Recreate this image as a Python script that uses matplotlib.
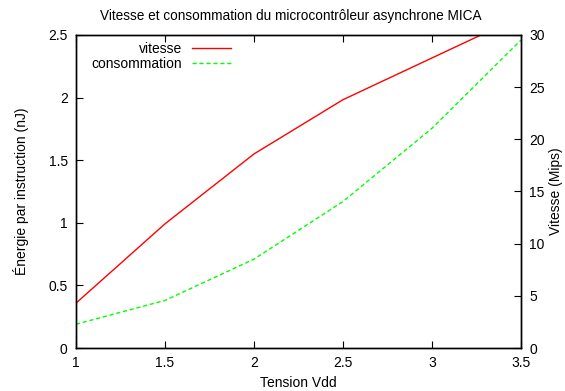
import matplotlib
matplotlib.use("Agg")
import matplotlib.pyplot as plt

plt.rcParams['font.family'] = ['Liberation Sans', 'DejaVu Sans']
plt.rcParams['font.size'] = 10

tension = [1.0, 1.5, 2.0, 2.5, 3.0, 3.5]
vitesse_mips = [4.3, 11.9, 18.6, 23.8, 27.8, 31.8]
consommation_nj = [0.19, 0.38, 0.71, 1.17, 1.755, 2.46]

xticks = [1, 1.5, 2, 2.5, 3, 3.5]
xtick_labels = ["1", "1.5", "2", "2.5", "3", "3.5"]
y1ticks = [0, 0.5, 1, 1.5, 2, 2.5]
y1tick_labels = ["0", "0.5", "1", "1.5", "2", "2.5"]
y2ticks = [0, 5, 10, 15, 20, 25, 30]

fig = plt.figure(figsize=(5.65, 3.91), dpi=100)
ax = fig.add_axes([76/565, 1-348/391, (521-76)/565, (348-35)/391])
ax2 = ax.twinx()

l2, = ax.plot(tension, consommation_nj, color='#00ff00', lw=1, dashes=(3, 2), label='consommation')
l1, = ax2.plot(tension, vitesse_mips, color='#ff0000', lw=1, label='vitesse')

ax.set_xlim(1, 3.5)
ax.set_ylim(0, 2.5)
ax2.set_ylim(0, 30)

ax.set_xticks(xticks)
ax.set_xticklabels(xtick_labels)
ax.set_yticks(y1ticks)
ax.set_yticklabels(y1tick_labels)
ax2.set_yticks(y2ticks)

ax.tick_params(axis='x', direction='in', top=True, length=5, width=0.8, pad=6)
ax.tick_params(axis='y', direction='in', right=False, length=5, width=0.8, pad=6)
ax2.tick_params(axis='y', direction='in', length=5, width=0.8, pad=6)

for a in (ax, ax2):
    for s in a.spines.values():
        s.set_linewidth(1.0)

ax.set_xlabel('Tension Vdd', labelpad=4)
ax.set_ylabel('Énergie par instruction (nJ)', labelpad=14)
ax2.set_ylabel('Vitesse (Mips)', labelpad=3)
ax.set_title('Vitesse et consommation du microcontrôleur asynchrone MICA',
             pad=11, fontsize=9.8, x=0.483)

leg = ax2.legend([l1, l2], ['vitesse', 'consommation'], loc='upper left',
                 bbox_to_anchor=(0.02, 1.0), frameon=False, markerfirst=False,
                 handlelength=2.8, labelspacing=0.1, borderaxespad=0.2,
                 handletextpad=0.7, borderpad=0.3)
for t in leg.get_texts():
    t.set_ha('right')

fig.savefig('out.png', dpi=100)
